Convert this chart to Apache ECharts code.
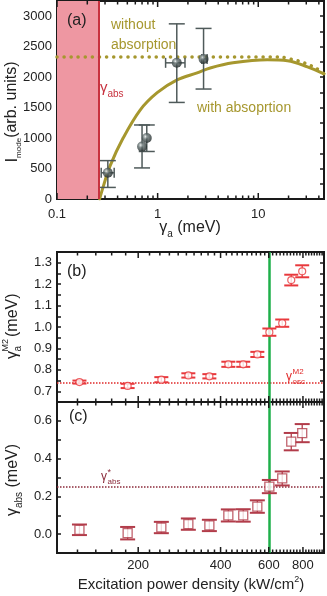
<!DOCTYPE html>
<html><head><meta charset="utf-8">
<script src="https://cdn.jsdelivr.net/npm/echarts@6/dist/echarts.min.js"></script>
<style>html,body{margin:0;padding:0;background:#fff;}#c{width:327px;height:596px;}</style>
</head><body><div id="c"></div>
<script>
// ---------- Panel (a) data ----------
const gammaAbsA = 0.262;
const aPointX = [0.32, 0.70, 0.78, 1.55, 2.86];
const aPointY = [430, 860, 1000, 2235, 2300];
const aErrYLow = [190, 510, 780, 1585, 1805];
const aErrYHigh = [630, 1215, 1215, 2875, 2800];
const aErrXLow = [0.275, 0.69, 0.77, 1.2, 2.75];
const aErrXHigh = [0.37, 0.71, 0.79, 1.87, 3.1];
const withAbsX = [0.265, 0.29, 0.336, 0.454, 0.67, 0.99, 1.56, 2.47, 3.33, 5.6, 12.3, 19.5, 30.8, 45];
const withAbsY = [0, 220, 540, 1000, 1460, 1745, 1955, 2070, 2150, 2235, 2285, 2270, 2170, 2055];
const withoutAbsX = [0.1, 16.6, 21.6, 26.2, 30.5, 37.2, 45];
const withoutAbsY = [2330, 2330, 2290, 2258, 2215, 2150, 2055];
const aXTicks = [0.1,0.2,0.3,0.4,0.5,0.6,0.7,0.8,0.9,1,2,3,4,5,6,7,8,9,10,20,30,40];
const aXMajor = [0.1, 1, 10];
const aXLabels = ['0.1', '1', '10'];

// ---------- Panels (b),(c) data ----------
const powerX = [122, 183, 243, 305, 364, 427, 484, 545, 603, 672, 725, 795];
const gammaA = [0.743, 0.725, 0.754, 0.774, 0.770, 0.826, 0.826, 0.872, 0.976, 1.018, 1.219, 1.260];
const gammaAErr = [0.007, 0.010, 0.012, 0.010, 0.010, 0.012, 0.012, 0.012, 0.017, 0.017, 0.025, 0.028];
const gammaAbs = [0.023, 0.005, 0.035, 0.053, 0.046, 0.099, 0.099, 0.146, 0.252, 0.295, 0.490, 0.535];
const gammaAbsErr = [0.028, 0.033, 0.030, 0.030, 0.030, 0.032, 0.033, 0.033, 0.035, 0.037, 0.046, 0.048];
const gammaOscM2 = 0.739;
const gammaAbsStar = 0.25;
const thresholdPower = 600;
const pXTicks = [120,140,160,180,200,220,240,260,280,300,320,340,360,380,400,420,440,460,480,500,520,540,560,580,600,620,640,660,680,700,720,740,760,780,800,820,840,860,880,900,920,940];
const pXMajor = [200, 400, 600, 800];
const pXLabels = ['200', '400', '600', '800'];

const F = "'Liberation Sans', Arial, Helvetica, sans-serif";
const OLIVE = '#A6972E', PINK = '#EE97A2', REDLINE = '#C8323F';
const RED_B = '#E8383C', RED_C = '#B23C4A', GREEN = '#1EAF4A', DARK = '#1a1a1a';

const chart = echarts.init(document.getElementById('c'));

function tickRender(yRef, majors, labels, labelOff) {
  return function (params, api) {
    const v = api.value(0);
    const cs = params.coordSys;
    const px = api.coord([v, yRef])[0];
    const mi = majors.indexOf(v);
    const len = mi >= 0 ? 6 : 3.5;
    const b = cs.y + cs.height, t = cs.y;
    const ch = [
      {type:'line', shape:{x1:px,y1:b,x2:px,y2:b-len}, style:{stroke:DARK,lineWidth:1.5}},
      {type:'line', shape:{x1:px,y1:t,x2:px,y2:t+len}, style:{stroke:DARK,lineWidth:1.5}}
    ];
    if (mi >= 0 && labels) {
      ch.push({type:'text', x:px, y:b+labelOff, style:{text:labels[mi], fill:'#222', font:'13px '+F, align:'center', verticalAlign:'top'}});
    }
    return {type:'group', children:ch};
  };
}

function errRender(color, capW, lw, capLw) {
  return function (params, api) {
    const x = api.value(0), lo = api.value(1), hi = api.value(2);
    const p1 = api.coord([x, lo]), p2 = api.coord([x, hi]);
    return {type:'group', children:[
      {type:'line', shape:{x1:p1[0],y1:p1[1],x2:p2[0],y2:p2[1]}, style:{stroke:color,lineWidth:lw}},
      {type:'line', shape:{x1:p1[0]-capW/2,y1:p1[1],x2:p1[0]+capW/2,y2:p1[1]}, style:{stroke:color,lineWidth:capLw}},
      {type:'line', shape:{x1:p2[0]-capW/2,y1:p2[1],x2:p2[0]+capW/2,y2:p2[1]}, style:{stroke:color,lineWidth:capLw}}
    ]};
  };
}

function errRenderXY(params, api) {
  const x = api.value(0), y = api.value(1);
  const pl = api.coord([x, api.value(2)]), ph = api.coord([x, api.value(3)]);
  const xl = api.coord([api.value(4), y]), xh = api.coord([api.value(5), y]);
  const c = '#4f5a5a', cw = 16, ch = 10;
  const els = [
    {type:'line', shape:{x1:pl[0],y1:pl[1],x2:ph[0],y2:ph[1]}, style:{stroke:c,lineWidth:1.5}},
    {type:'line', shape:{x1:pl[0]-cw/2,y1:pl[1],x2:pl[0]+cw/2,y2:pl[1]}, style:{stroke:c,lineWidth:1.5}},
    {type:'line', shape:{x1:ph[0]-cw/2,y1:ph[1],x2:ph[0]+cw/2,y2:ph[1]}, style:{stroke:c,lineWidth:1.5}}
  ];
  if (xh[0] - xl[0] > 3) {
    els.push({type:'line', shape:{x1:xl[0],y1:xl[1],x2:xh[0],y2:xh[1]}, style:{stroke:c,lineWidth:1.5}});
    els.push({type:'line', shape:{x1:xl[0],y1:xl[1]-ch/2,x2:xl[0],y2:xl[1]+ch/2}, style:{stroke:c,lineWidth:1.5}});
    els.push({type:'line', shape:{x1:xh[0],y1:xh[1]-ch/2,x2:xh[0],y2:xh[1]+ch/2}, style:{stroke:c,lineWidth:1.5}});
  }
  return {type:'group', children:els};
}

const gridBase = {show:true, borderColor:DARK, borderWidth:2, backgroundColor:'transparent', containLabel:false};
const noAxis = {axisLine:{show:false}, axisTick:{show:false}, axisLabel:{show:false}, splitLine:{show:false}};
function yAx(grid, min, max, interval, fmt, right) {
  return {
    type:'value', gridIndex:grid, min:min, max:max, interval:interval, position: right ? 'right' : 'left',
    axisLine:{show:false}, splitLine:{show:false},
    axisTick:{show:true, inside:true, length:4, lineStyle:{color:DARK, width:1.5}},
    axisLabel:{show:!right, formatter:fmt, color:'#222', fontSize:13, fontFamily:F, margin:5}
  };
}

const sub = (size, color) => ({fontSize:size, fontFamily:F, fill:color, verticalAlign:'bottom', lineHeight:size});
const main = (size, color, lh) => ({fontSize:size, fontFamily:F, fill:color, lineHeight:lh});

function rtext(x, y, text, rich, align, rot) {
  return {type:'text', x:x, y:y, rotation: rot || 0, z:100,
    style:{text:text, rich:rich, align:align || 'left', verticalAlign:'middle'}};
}
function t(x, y, text, size, color) {
  return {type:'text', x:x, y:y, style:{text:text, font:size+'px '+F, fill:color, align:'left', verticalAlign:'middle'}};
}

const option = {
  animation:false,
  backgroundColor:'#fff',
  grid:[
    Object.assign({left:57, top:1, width:267, height:198}, gridBase),
    Object.assign({left:57, top:252, width:267, height:150}, gridBase),
    Object.assign({left:57, top:402, width:267, height:151}, gridBase)
  ],
  xAxis:[
    Object.assign({type:'log', gridIndex:0, min:0.1, max:45}, noAxis),
    Object.assign({type:'log', gridIndex:1, min:101, max:955}, noAxis),
    Object.assign({type:'log', gridIndex:2, min:101, max:955}, noAxis)
  ],
  yAxis:[
    yAx(0, 0, 3250, 250, v => (Math.round(v) % 500 === 0 ? String(Math.round(v)) : ''), false),
    yAx(0, 0, 3250, 250, null, true),
    yAx(1, 0.65, 1.35, 0.05, v => (Math.round(v*100) % 10 === 0 ? v.toFixed(1) : ''), false),
    yAx(1, 0.65, 1.35, 0.05, null, true),
    yAx(2, -0.1, 0.7, 0.1, v => { const k = Math.round(v*10); return (k % 2 === 0 && k >= 0 && k <= 6) ? v.toFixed(1) : ''; }, false),
    yAx(2, -0.1, 0.7, 0.1, null, true)
  ],
  series:[
    // (a) shaded absorption region + gamma_abs line
    {type:'line', xAxisIndex:0, yAxisIndex:0, data:[[0.1, 0]], showSymbol:false, symbol:'none', lineStyle:{width:0}, z:1,
      markArea:{silent:true, itemStyle:{color:PINK, opacity:1}, data:[[{xAxis:0.1}, {xAxis:gammaAbsA}]]},
      markLine:{silent:true, symbol:'none', label:{show:false}, lineStyle:{color:REDLINE, width:2, type:'solid'}, data:[{xAxis:gammaAbsA}]}
    },
    {type:'line', name:'without absorption', xAxisIndex:0, yAxisIndex:0, data:withoutAbsX.map((x,i)=>[x, withoutAbsY[i]]),
      showSymbol:false, symbol:'none', smooth:0.3, z:3,
      lineStyle:{color:OLIVE, width:3.5, type:[0.1, 7], cap:'round'}},
    {type:'line', name:'with absorption', xAxisIndex:0, yAxisIndex:0, data:withAbsX.map((x,i)=>[x, withAbsY[i]]),
      showSymbol:false, symbol:'none', smooth:0.35, z:4,
      lineStyle:{color:OLIVE, width:3, cap:'round'}},
    {type:'custom', xAxisIndex:0, yAxisIndex:0, z:5, renderItem:errRenderXY,
      data:aPointX.map((x,i)=>[x, aPointY[i], aErrYLow[i], aErrYHigh[i], aErrXLow[i], aErrXHigh[i]]),
      encode:{x:[0,4,5], y:[1,2,3]}},
    {type:'scatter', xAxisIndex:0, yAxisIndex:0, z:6, symbol:'circle', symbolSize:10,
      data:aPointX.map((x,i)=>[x, aPointY[i]]),
      itemStyle:{color:new echarts.graphic.RadialGradient(0.38, 0.35, 0.65, [
        {offset:0, color:'#e4eaea'}, {offset:0.4, color:'#5d6a6a'}, {offset:1, color:'#1f2828'}]), borderWidth:0}},
    {type:'custom', xAxisIndex:0, yAxisIndex:0, z:10, renderItem:tickRender(0, aXMajor, aXLabels, 9),
      data:aXTicks.map(v=>[v, 0])},

    // (b)
    {type:'custom', xAxisIndex:1, yAxisIndex:2, z:5, renderItem:errRender(RED_B, 14, 1.3, 2),
      data:powerX.map((x,i)=>[x, gammaA[i]-gammaAErr[i], gammaA[i]+gammaAErr[i]]), encode:{x:0, y:[1,2]},
      markLine:{silent:true, symbol:'none', label:{show:false}, data:[
        {yAxis:gammaOscM2, lineStyle:{color:'#E02828', width:1.5, type:[1.5, 1.5]}},
        {xAxis:thresholdPower, lineStyle:{color:GREEN, width:2.5, type:'solid'}}
      ]}},
    {type:'scatter', xAxisIndex:1, yAxisIndex:2, z:6, symbol:'circle', symbolSize:7,
      data:powerX.map((x,i)=>[x, gammaA[i]]),
      itemStyle:{color:'#fff', borderColor:RED_B, borderWidth:1.2}},
    {type:'custom', xAxisIndex:1, yAxisIndex:2, z:10, renderItem:tickRender(1.0, pXMajor, null, 0),
      data:pXTicks.map(v=>[v, 1.0])},

    // (c)
    {type:'custom', xAxisIndex:2, yAxisIndex:4, z:5, renderItem:errRender(RED_C, 15, 1.3, 2),
      data:powerX.map((x,i)=>[x, gammaAbs[i]-gammaAbsErr[i], gammaAbs[i]+gammaAbsErr[i]]), encode:{x:0, y:[1,2]},
      markLine:{silent:true, symbol:'none', label:{show:false}, data:[
        {yAxis:gammaAbsStar, lineStyle:{color:'#8A2A3A', width:1.5, type:[1.5, 1.5]}},
        {xAxis:thresholdPower, lineStyle:{color:GREEN, width:2.5, type:'solid'}}
      ]}},
    {type:'scatter', xAxisIndex:2, yAxisIndex:4, z:6, symbol:'rect', symbolSize:9,
      data:powerX.map((x,i)=>[x, gammaAbs[i]]),
      itemStyle:{color:'#fff', borderColor:RED_C, borderWidth:1.3}},
    {type:'custom', xAxisIndex:2, yAxisIndex:4, z:10, renderItem:tickRender(0.3, pXMajor, pXLabels, 6),
      data:pXTicks.map(v=>[v, 0.3])}
  ],
  graphic:[
    rtext(67, 21, '{t|(a)}', {t:main(16, '#222', 18)}),
    rtext(111, 25, '{t|without}', {t:main(14, OLIVE, 16)}),
    rtext(111, 45, '{t|absorption}', {t:main(14, OLIVE, 16)}),
    rtext(100, 88, '{g|γ}{s|abs}', {g:main(15, REDLINE, 22), s:sub(10, REDLINE)}),
    rtext(197, 108, '{t|with absoprtion}', {t:main(14, OLIVE, 16)}),
    rtext(190, 228, '{g|γ}{s|a}{t| (meV)}', {g:main(16, '#222', 22), s:sub(10, '#222'), t:main(16, '#222', 22)}, 'center'),
    rtext(12, 112, '{g|I}{s|mode}{t|(arb. units)}', {g:main(17, '#222', 22), s:sub(8, '#222'), t:main(16, '#222', 22)}, 'center', Math.PI/2),
    rtext(67, 272, '{t|(b)}', {t:main(16, '#222', 18)}),
    {type:'group', x:13, y:326, rotation:Math.PI/2, children:[
      t(-33, 0, 'γ', 16, '#222'),
      t(-25.5, 5, 'a', 10, '#222'),
      t(-25.5, -7, 'M2', 9, '#222'),
      t(-11, 0, '(meV)', 16, '#222')
    ]},
    t(286, 377, 'γ', 12, '#E02828'),
    t(292.5, 372, 'M2', 8, '#E02828'),
    t(292.5, 381.5, 'osc', 8, '#E02828'),
    rtext(69, 417, '{t|(c)}', {t:main(16, '#222', 18)}),
    rtext(13, 480, '{g|γ}{s|abs}{t| (meV)}', {g:main(16, '#222', 22), s:sub(10, '#222'), t:main(16, '#222', 22)}, 'center', Math.PI/2),
    t(101, 477, 'γ', 12, '#8A2A3A'),
    t(107.5, 473, '*', 9, '#8A2A3A'),
    t(107.5, 482, 'abs', 8, '#8A2A3A'),
    rtext(191, 585, '{t|Excitation power density (kW/cm}{p|2}{t|)}', {t:main(15, '#222', 20), p:{fontSize:9, fontFamily:F, fill:'#222', verticalAlign:'top', lineHeight:9}}, 'center')
  ]
};
chart.setOption(option);
</script></body></html>
